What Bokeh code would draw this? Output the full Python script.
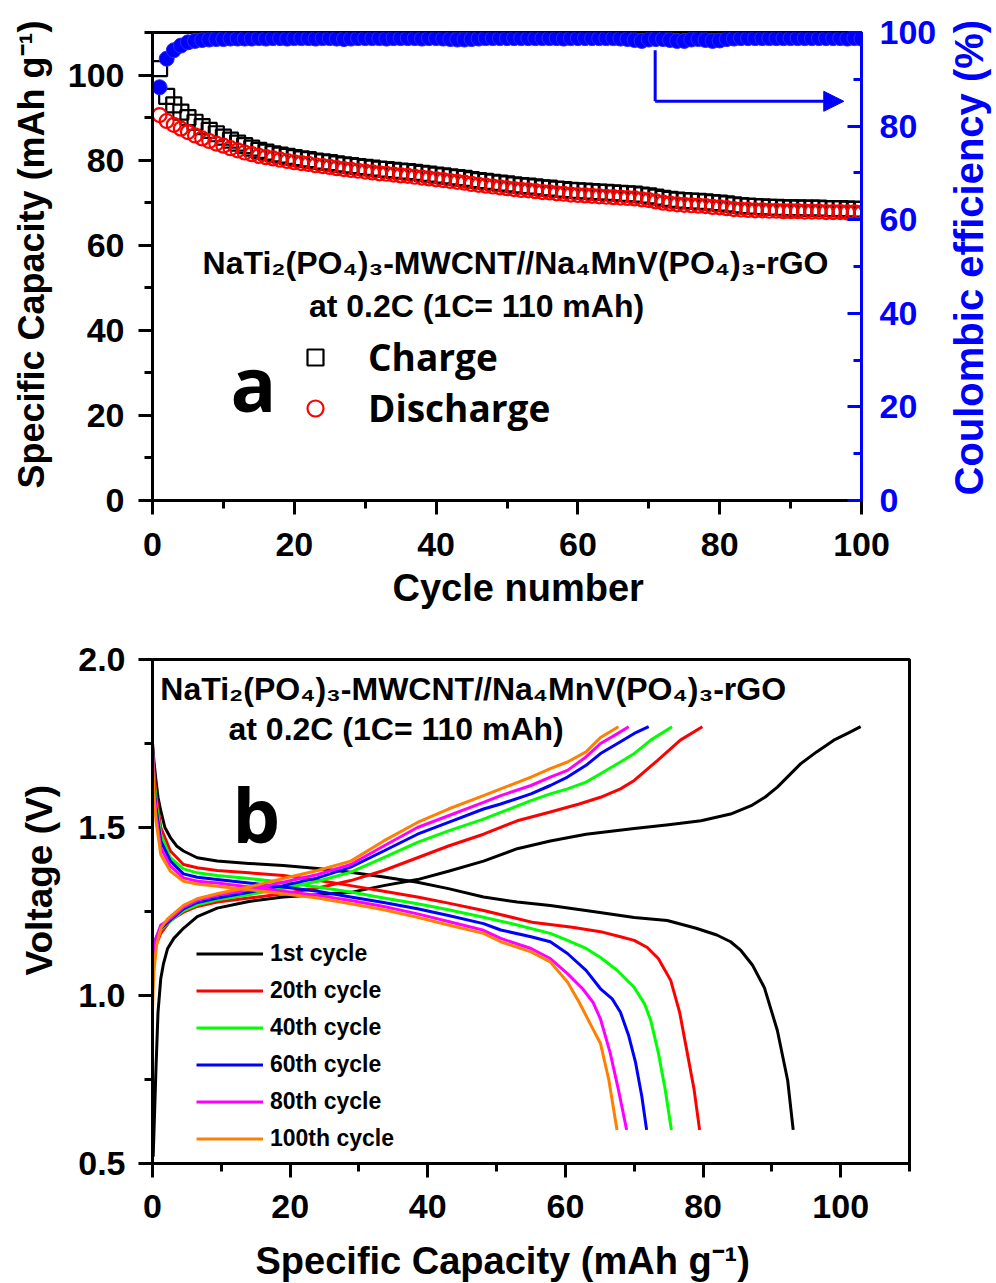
from bokeh.plotting import figure
from bokeh.models import (Range1d, LinearAxis, FixedTicker, Legend, LegendItem,
                          Label, Arrow, NormalHead, Title)
from bokeh.layouts import row
from bokeh.embed import file_html
from bokeh.resources import INLINE

# ---------------- Panel (a) data ----------------
cycles = list(range(1, 101))
charge_cap = [101.5, 95.0, 93.0, 91.3, 90.0, 88.9, 87.9, 87.0, 86.2, 85.4,
              84.7, 84.0, 83.4, 82.8, 82.3, 81.9, 81.5, 81.2, 80.9, 80.6,
              80.3, 80.1, 79.8, 79.6, 79.4, 79.1, 78.9, 78.7, 78.5, 78.3,
              78.1, 77.9, 77.8, 77.6, 77.4, 77.3, 77.1, 76.9, 76.7, 76.5,
              76.3, 76.1, 75.9, 75.7, 75.4, 75.2, 75.0, 74.8, 74.6, 74.4,
              74.2, 74.0, 73.9, 73.7, 73.5, 73.4, 73.2, 73.1, 72.9, 72.8,
              72.7, 72.6, 72.5, 72.4, 72.3, 72.2, 72.1, 72.0, 71.8, 71.6,
              71.3, 71.0, 70.8, 70.6, 70.5, 70.4, 70.3, 70.2, 70.0, 69.9,
              69.7, 69.5, 69.3, 69.2, 69.1, 69.0, 68.9, 68.9, 68.8, 68.8,
              68.8, 68.7, 68.7, 68.7, 68.6, 68.6, 68.6, 68.5, 68.5, 68.4]
discharge_cap = [90.6, 89.2, 88.3, 87.4, 86.6, 85.8, 85.1, 84.5, 83.9, 83.4,
                 82.8, 82.3, 81.8, 81.4, 81.0, 80.7, 80.4, 80.1, 79.8, 79.5,
                 79.3, 79.1, 78.8, 78.6, 78.4, 78.1, 77.9, 77.7, 77.5, 77.3,
                 77.1, 76.9, 76.8, 76.6, 76.4, 76.3, 76.1, 75.9, 75.7, 75.5,
                 75.3, 75.1, 74.9, 74.7, 74.4, 74.2, 74.0, 73.8, 73.6, 73.4,
                 73.2, 73.0, 72.9, 72.7, 72.5, 72.4, 72.2, 72.1, 71.9, 71.8,
                 71.7, 71.6, 71.5, 71.4, 71.3, 71.2, 71.1, 71.0, 70.8, 70.6,
                 70.3, 70.0, 69.8, 69.6, 69.5, 69.4, 69.3, 69.2, 69.0, 68.9,
                 68.7, 68.5, 68.4, 68.3, 68.2, 68.2, 68.1, 68.1, 68.0, 68.0,
                 68.0, 67.9, 67.9, 67.9, 67.8, 67.8, 67.8, 67.7, 67.7, 67.6]
coulombic_eff = [88.3, 94.4, 96.2, 97.2, 97.9, 98.2, 98.4, 98.5, 98.6, 98.6,
                 98.7, 98.7, 98.7, 98.7, 98.8, 98.7, 98.8, 98.8, 98.7, 98.8,
                 98.8, 98.8, 98.7, 98.8, 98.8, 98.7, 98.6, 98.7, 98.8, 98.8,
                 98.8, 98.8, 98.7, 98.8, 98.8, 98.8, 98.8, 98.7, 98.8, 98.8,
                 98.7, 98.6, 98.5, 98.5, 98.6, 98.7, 98.8, 98.8, 98.8, 98.8,
                 98.8, 98.8, 98.8, 98.8, 98.8, 98.8, 98.8, 98.7, 98.8, 98.8,
                 98.8, 98.8, 98.8, 98.8, 98.8, 98.7, 98.6, 98.4, 98.2, 98.5,
                 98.6, 98.6, 98.4, 98.2, 98.2, 98.5, 98.6, 98.4, 98.2, 98.3,
                 98.6, 98.7, 98.8, 98.8, 98.8, 98.8, 98.8, 98.8, 98.8, 98.8,
                 98.8, 98.8, 98.8, 98.8, 98.8, 98.8, 98.8, 98.7, 98.8, 98.7]

top_x_ticks = [0, 20, 40, 60, 80, 100]
top_x_minor = [10, 30, 50, 70, 90]
top_y_ticks = [0, 20, 40, 60, 80, 100]
top_y_minor = [10, 30, 50, 70, 90, 110]
ce_ticks = [0, 20, 40, 60, 80, 100]
ce_minor = [10, 30, 50, 70, 90]

# ---------------- Panel (b) data (capacity mAh/g, voltage V) ----------------
cap_c1 = [0.1, 0.3, 0.5, 0.8, 1.2, 1.6, 2.2, 3.1, 4.5, 6.5, 9.4, 14, 19, 24, 28.8, 33.6, 38.5, 43, 48.1, 53,
          57.8, 63, 70, 75, 79.7, 84, 87, 89, 90.8, 92.5, 94.2, 96.5, 99, 101, 102.9]
v_c1 = [0.52, 0.65, 0.78, 0.95, 1.05, 1.095, 1.14, 1.17, 1.20, 1.235, 1.26, 1.28, 1.293, 1.30, 1.307, 1.327,
        1.345, 1.37, 1.40, 1.437, 1.46, 1.48, 1.497, 1.508, 1.52, 1.54, 1.565, 1.59, 1.62, 1.655, 1.69, 1.725,
        1.76, 1.78, 1.80]
cap_d1 = [0, 0.2, 0.5, 0.8, 1.2, 1.8, 2.6, 3.5, 4.5, 6.5, 9.4, 14, 19, 24, 28.8, 33.6, 38.5, 43, 48.1, 53,
          57.8, 64, 70, 74.8, 79, 82, 84, 85.5, 87.2, 88.9, 90.8, 92.3, 93.1]
v_d1 = [1.75, 1.70, 1.64, 1.59, 1.55, 1.50, 1.47, 1.445, 1.43, 1.41, 1.40, 1.393, 1.387, 1.378, 1.367, 1.353,
        1.337, 1.318, 1.293, 1.278, 1.268, 1.25, 1.232, 1.223, 1.20, 1.18, 1.16, 1.134, 1.09, 1.024, 0.896,
        0.747, 0.6]

cap_c20 = [0, 0.2, 0.5, 1.2, 2.6, 4.5, 6.5, 9.4, 14, 19, 24, 28.8, 33.6, 38.5, 43, 48.1, 53, 57.8, 62, 65.1,
           68, 70, 73.4, 76.7, 79.9]
v_c20 = [1.09, 1.12, 1.15, 1.185, 1.223, 1.248, 1.265, 1.278, 1.29, 1.303, 1.32, 1.342, 1.372, 1.41, 1.445,
         1.48, 1.52, 1.546, 1.57, 1.59, 1.615, 1.64, 1.70, 1.76, 1.80]
cap_d20 = [0, 0.2, 0.5, 1.2, 2.6, 4.5, 6.5, 9.4, 14, 19, 24, 28.8, 33.6, 38.5, 43, 48.1, 55.4, 61, 65.1, 68,
           70, 71.9, 73.5, 75.3, 76.6, 77.7, 78.7, 79.5]
v_d20 = [1.75, 1.67, 1.60, 1.50, 1.43, 1.39, 1.38, 1.372, 1.365, 1.357, 1.343, 1.327, 1.31, 1.293, 1.275,
         1.253, 1.217, 1.203, 1.19, 1.175, 1.164, 1.143, 1.11, 1.045, 0.95, 0.83, 0.72, 0.6]

cap_c40 = [0, 0.2, 0.5, 1.2, 2.2, 4.5, 6.5, 9.4, 14, 19, 24, 28.8, 33.6, 38.5, 43, 48.1, 50.6, 55, 57.8, 60.3,
           63, 65.1, 68, 70, 72.4, 75.5]
v_c40 = [1.10, 1.13, 1.16, 1.195, 1.215, 1.253, 1.27, 1.285, 1.30, 1.318, 1.34, 1.367, 1.41, 1.456, 1.49,
         1.525, 1.545, 1.58, 1.60, 1.615, 1.635, 1.66, 1.695, 1.72, 1.76, 1.80]
cap_d40 = [0, 0.2, 0.5, 1.2, 2.6, 4.5, 6.5, 9.4, 14, 19, 24, 28.8, 33.6, 38.5, 43, 48.1, 53, 57.8, 60.3, 63,
           65.1, 67.5, 70, 71.5, 72.4, 73.5, 74.5, 75.4]
v_d40 = [1.74, 1.65, 1.58, 1.48, 1.41, 1.377, 1.365, 1.357, 1.348, 1.337, 1.323, 1.308, 1.29, 1.273, 1.255,
         1.233, 1.21, 1.185, 1.164, 1.14, 1.113, 1.075, 1.024, 0.975, 0.926, 0.83, 0.72, 0.6]

cap_c60 = [0, 0.2, 0.5, 1.2, 2.2, 4.5, 6.5, 9.4, 14, 19, 24, 28.8, 33.6, 38.5, 43, 48.1, 50.6, 55, 57.8, 60.3,
           63, 65.1, 68, 70, 72.1]
v_c60 = [1.10, 1.14, 1.17, 1.20, 1.218, 1.258, 1.277, 1.29, 1.307, 1.327, 1.35, 1.382, 1.43, 1.48, 1.515,
         1.555, 1.57, 1.60, 1.625, 1.65, 1.685, 1.72, 1.755, 1.78, 1.80]
cap_d60 = [0, 0.2, 0.5, 1.2, 2.6, 4.5, 6.5, 9.4, 14, 19, 24, 28.8, 33.6, 38.5, 43, 48.1, 50.6, 55, 57.8, 60.3,
           63, 65.1, 66.8, 68, 69.2, 70.2, 71.1, 71.8]
v_d60 = [1.74, 1.63, 1.56, 1.46, 1.40, 1.362, 1.352, 1.345, 1.335, 1.323, 1.31, 1.293, 1.277, 1.258, 1.238,
         1.214, 1.195, 1.175, 1.16, 1.125, 1.075, 1.02, 0.99, 0.95, 0.88, 0.8, 0.7, 0.6]

cap_c80 = [0, 0.2, 0.5, 1.2, 2.2, 4.5, 6.5, 9.4, 14, 19, 24, 28.8, 33.6, 38.5, 43, 48.1, 50.6, 55, 57.8, 60.3,
           63, 65.1, 67.2, 69.2]
v_c80 = [1.08, 1.13, 1.17, 1.21, 1.222, 1.263, 1.283, 1.298, 1.315, 1.337, 1.36, 1.39, 1.445, 1.50, 1.535,
         1.575, 1.595, 1.625, 1.65, 1.67, 1.71, 1.75, 1.775, 1.80]
cap_d80 = [0, 0.2, 0.5, 1.2, 2.6, 4.5, 6.5, 9.4, 14, 19, 24, 28.8, 33.6, 38.5, 43, 48.1, 50.6, 55, 57.8, 60.3,
           62.5, 64, 65.1, 66.5, 67.7, 68.9]
v_d80 = [1.73, 1.62, 1.54, 1.44, 1.385, 1.35, 1.34, 1.335, 1.323, 1.31, 1.298, 1.283, 1.265, 1.243, 1.22,
         1.194, 1.17, 1.14, 1.11, 1.065, 1.02, 0.98, 0.93, 0.83, 0.72, 0.6]

cap_c100 = [0, 0.1, 0.25, 0.6, 1.2, 2.2, 4.5, 6.5, 9.4, 14, 19, 24, 28.8, 33.6, 38.5, 43, 48.1, 50.6, 55, 57.8,
            60.3, 63, 65.1, 67.7]
v_c100 = [0.95, 1.02, 1.08, 1.15, 1.20, 1.228, 1.268, 1.288, 1.303, 1.323, 1.348, 1.372, 1.40, 1.46, 1.515,
          1.555, 1.595, 1.615, 1.65, 1.675, 1.695, 1.725, 1.768, 1.80]
cap_d100 = [0, 0.2, 0.5, 1.2, 2.6, 4.5, 6.5, 9.4, 14, 19, 24, 28.8, 33.6, 38.5, 43, 48.1, 50.6, 55, 57.8, 60.3,
            62, 63.5, 65.1, 66.3, 67.5]
v_d100 = [1.72, 1.60, 1.52, 1.42, 1.37, 1.34, 1.332, 1.325, 1.315, 1.303, 1.29, 1.273, 1.255, 1.233, 1.21,
          1.185, 1.16, 1.13, 1.10, 1.04, 0.98, 0.92, 0.857, 0.75, 0.6]

cycle_labels = ["1st cycle", "20th cycle", "40th cycle", "60th cycle", "80th cycle", "100th cycle"]
cycle_colors = ["#000000", "#FF0000", "#00FF00", "#0000FF", "#FF00FF", "#FF8000"]

bot_x_ticks = [0, 20, 40, 60, 80, 100]
bot_x_minor = [10, 30, 50, 70, 90, 110]
bot_y_ticks = [0.5, 1.0, 1.5, 2.0]
bot_y_labels = ["0.5", "1.0", "1.5", "2.0"]
bot_y_minor = [0.75, 1.25, 1.75]

formula = "NaTi\u2082(PO\u2084)\u2083-MWCNT//Na\u2084MnV(PO\u2084)\u2083-rGO"
rate_text = "at 0.2C (1C= 110 mAh)"
cap_title = "Specific Capacity (mAh g\u207b\u00b9)"
ce_title = "Coulombic efficiency (%)"

ARIAL = "Liberation Sans"
SANS2 = "Open Sans"
BLUE = "#0000FF"


def style_axis(ax, color="black", tick_in=False):
    ax.axis_line_width = 3
    ax.axis_line_color = color
    ax.major_tick_line_width = 3
    ax.minor_tick_line_width = 3
    ax.major_tick_line_color = color
    ax.minor_tick_line_color = color
    if tick_in:
        ax.major_tick_in, ax.major_tick_out = 14, 0
        ax.minor_tick_in, ax.minor_tick_out = 8, 0
    else:
        ax.major_tick_in, ax.major_tick_out = 0, 14
        ax.minor_tick_in, ax.minor_tick_out = 0, 8
    ax.major_label_text_font = ARIAL
    ax.major_label_text_font_style = "bold"
    ax.major_label_text_font_size = "34px"
    ax.major_label_text_color = color


def text_label(x, y, text, size, font=ARIAL, align="center"):
    return Label(x=x, y=y, text=text, text_align=align, text_baseline="middle",
                 text_font=font, text_font_style="bold", text_font_size=size,
                 text_color="black")


def side_title(text, size, offset, standoff, valign, color="black"):
    return Title(text=text, align="left", offset=offset, standoff=standoff,
                 vertical_align=valign, text_font=ARIAL, text_font_style="bold",
                 text_font_size=size, text_color=color)


# ================= Panel (a) =================
top = figure(width=940, height=620, x_range=Range1d(0, 100), y_range=Range1d(0, 110),
             output_backend="svg", toolbar_location=None,
             min_border_left=152, min_border_right=79, min_border_top=32, min_border_bottom=120)
top.extra_y_ranges = {"ce": Range1d(0, 100)}
top.xgrid.visible = False
top.ygrid.visible = False
top.outline_line_color = "black"
top.outline_line_width = 3
top.background_fill_color = "white"
top.border_fill_color = "white"

r_ch = top.scatter(cycles, charge_cap, marker="square", size=15, fill_color=None,
                   line_color="black", line_width=2.2)
r_dis = top.scatter(cycles, discharge_cap, marker="circle", size=14, fill_color=None,
                    line_color="#FF0000", line_width=2.2)
top.scatter(cycles, coulombic_eff, marker="circle", size=15, fill_color=BLUE,
            line_color="#2a2aff", line_width=1, y_range_name="ce")

top.xaxis.ticker = FixedTicker(ticks=top_x_ticks, minor_ticks=top_x_minor)
top.yaxis.ticker = FixedTicker(ticks=top_y_ticks, minor_ticks=top_y_minor)
style_axis(top.xaxis[0])
style_axis(top.yaxis[0])
top.xaxis.major_label_standoff = 18
top.yaxis.major_label_standoff = 14

ce_axis = LinearAxis(y_range_name="ce", ticker=FixedTicker(ticks=ce_ticks, minor_ticks=ce_minor))
style_axis(ce_axis, color=BLUE, tick_in=True)
ce_axis.major_label_standoff = 18
top.add_layout(ce_axis, "right")

# axis titles
top.add_layout(side_title("Cycle number", "38px", 240, 16, "top"), "below")
top.add_layout(side_title(cap_title, "36px", 12, 21, "top"), "left")

top.add_layout(text_label(51.2, 55.8, formula, "32px"))
top.add_layout(text_label(45.7, 45.6, rate_text, "32px"))
top.add_layout(text_label(11.0, 27.8, "a", "76px", font=SANS2, align="left"))

# arrow pointing to right axis
arrow_x0, arrow_x1, arrow_ytop, arrow_y = 70.9, 97.5, 96.2, 85.3
top.add_layout(Arrow(end=None, x_start=arrow_x0, y_start=arrow_ytop, x_end=arrow_x0, y_end=arrow_y,
                     line_color=BLUE, line_width=3, y_range_name="ce"))
top.add_layout(Arrow(end=NormalHead(size=20, fill_color=BLUE, line_color=BLUE, line_width=1),
                     x_start=arrow_x0, y_start=arrow_y, x_end=arrow_x1, y_end=arrow_y,
                     line_color=BLUE, line_width=3, y_range_name="ce"))

leg_a = Legend(items=[LegendItem(label="Charge", renderers=[r_ch]),
                      LegendItem(label="Discharge", renderers=[r_dis])],
               location=(143, 67), glyph_width=40, glyph_height=50, label_height=50,
               label_standoff=33, spacing=0, padding=0, margin=0,
               border_line_alpha=0, background_fill_alpha=0,
               label_text_font=SANS2, label_text_font_style="bold", label_text_font_size="37px",
               label_text_color="black")
top.add_layout(leg_a)

# narrow strip to the right holding the right-axis title (reads bottom-to-top)
strip = figure(width=56, height=620, x_range=Range1d(0, 1), y_range=Range1d(0, 1),
               output_backend="svg", toolbar_location=None,
               x_axis_location=None, y_axis_location=None,
               min_border_left=50, min_border_right=0, min_border_top=32, min_border_bottom=120)
strip.xgrid.visible = False
strip.ygrid.visible = False
strip.outline_line_color = None
strip.background_fill_color = "white"
strip.border_fill_color = "white"
strip.add_layout(side_title(ce_title, "40px", 5, 0, "bottom", color=BLUE), "left")

# ================= Panel (b) =================
bot = figure(width=996, height=663, x_range=Range1d(0, 110), y_range=Range1d(0.5, 2.0),
             output_backend="svg", toolbar_location=None,
             min_border_left=152, min_border_right=87, min_border_top=39, min_border_bottom=120)
bot.xgrid.visible = False
bot.ygrid.visible = False
bot.outline_line_color = "black"
bot.outline_line_width = 3
bot.background_fill_color = "white"
bot.border_fill_color = "white"

curves = [(cap_c1, v_c1, cap_d1, v_d1), (cap_c20, v_c20, cap_d20, v_d20),
          (cap_c40, v_c40, cap_d40, v_d40), (cap_c60, v_c60, cap_d60, v_d60),
          (cap_c80, v_c80, cap_d80, v_d80), (cap_c100, v_c100, cap_d100, v_d100)]
items = []
for (cc, vc, cd, vd), col, lab in zip(curves, cycle_colors, cycle_labels):
    rc = bot.line(cc, vc, line_color=col, line_width=3, line_join="round")
    bot.line(cd, vd, line_color=col, line_width=3, line_join="round")
    items.append(LegendItem(label=lab, renderers=[rc]))

bot.xaxis.ticker = FixedTicker(ticks=bot_x_ticks, minor_ticks=bot_x_minor)
bot.yaxis.ticker = FixedTicker(ticks=bot_y_ticks, minor_ticks=bot_y_minor)
bot.yaxis.major_label_overrides = {t: s for t, s in zip(bot_y_ticks, bot_y_labels)}
style_axis(bot.xaxis[0])
style_axis(bot.yaxis[0])
bot.xaxis.major_label_standoff = 17
bot.yaxis.major_label_standoff = 13

# small spacer title pushes the x title down without changing the frame
bot.add_layout(Title(text=" ", text_font_size="15px", standoff=0), "below")
bot.add_layout(side_title(cap_title, "38px", 103, 0, "top"), "below")
bot.add_layout(side_title("Voltage (V)", "37px", 188, 28, "top"), "left")

bot.add_layout(text_label(46.6, 1.911, formula, "32px"))
bot.add_layout(text_label(35.4, 1.792, rate_text, "32px"))
bot.add_layout(text_label(11.6, 1.542, "b", "76px", font=SANS2, align="left"))

leg_b = Legend(items=items, location=(44, 6.5), glyph_width=67, glyph_height=37, label_height=37,
               label_standoff=7, spacing=0, padding=0, margin=0,
               border_line_alpha=0, background_fill_alpha=0,
               label_text_font=ARIAL, label_text_font_style="bold", label_text_font_size="23px",
               label_text_color="black")
bot.add_layout(leg_b)

open("out.html", "w").write(file_html([row(top, strip, spacing=0), bot], INLINE))
